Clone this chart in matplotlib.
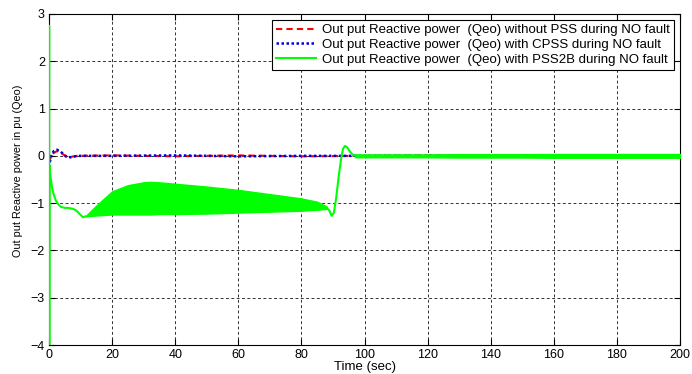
import matplotlib
matplotlib.use("Agg")
import matplotlib.pyplot as plt
import numpy as np

# ---- data ----
# red: without PSS
t_red = [0, 0.3, 0.8, 1.5, 2.5, 3.5, 4.5, 5.5, 7, 9, 20, 40, 60, 80, 100, 120, 140, 160, 180, 200]
q_red = [0, -0.08, 0.0, 0.06, 0.1, 0.08, 0.03, -0.01, -0.02, 0.0, 0.01, -0.01, 0.01, -0.01, 0.0, 0.01, 0.0, 0.0, 0.0, 0.0]
# blue: with CPSS
t_blue = [0, 0.3, 0.8, 1.5, 2.5, 3.5, 4.5, 5.5, 7, 9, 20, 40, 60, 80, 100, 120, 140, 160, 180, 200]
q_blue = [0, -0.12, 0.02, 0.1, 0.13, 0.1, 0.04, -0.02, -0.03, 0.0, 0.0, 0.01, -0.01, 0.0, 0.0, 0.0, 0.0, 0.0, 0.0, 0.0]

# green: with PSS2B, trace before band
t_g1 = [0, 0.05, 0.1, 0.15, 0.3, 0.6, 1.0, 1.5, 2.2, 3.0, 3.8, 5, 6, 7.6, 8.5, 9.3, 10, 10.8, 11.5]
q_g1 = [0, 2.75, -4.5, -0.2, -0.35, -0.5, -0.68, -0.82, -0.95, -1.03, -1.08, -1.1, -1.1, -1.12, -1.15, -1.2, -1.25, -1.3, -1.28]
# green oscillation band envelope
t_band = [11.5, 15, 20, 25, 30, 32, 35, 40, 50, 60, 70, 80, 85, 88]
q_band_hi = [-1.28, -1.05, -0.75, -0.62, -0.56, -0.55, -0.56, -0.59, -0.65, -0.72, -0.81, -0.9, -0.97, -1.07]
q_band_lo = [-1.28, -1.26, -1.24, -1.24, -1.24, -1.24, -1.23, -1.23, -1.22, -1.2, -1.18, -1.16, -1.14, -1.12]
# green trace after band
t_g2 = [88, 88.8, 89.6, 90.3, 91, 91.8, 92.5, 93.2, 93.8, 94.5, 95.5, 96.5, 98]
q_g2 = [-1.1, -1.15, -1.27, -1.2, -0.9, -0.45, -0.1, 0.15, 0.21, 0.18, 0.08, 0.01, 0.0]
# green small band after recovery
t_band2 = [97, 110, 120, 130, 140, 150, 160, 170, 180, 190, 200]
q_band2_hi = [0.03, 0.03, 0.03, 0.035, 0.035, 0.035, 0.04, 0.04, 0.04, 0.04, 0.04]
q_band2_lo = [-0.03, -0.03, -0.03, -0.035, -0.035, -0.035, -0.04, -0.04, -0.04, -0.04, -0.04]

labels = ["Out put Reactive power  (Qeo) without PSS during NO fault",
          "Out put Reactive power  (Qeo) with CPSS during NO fault",
          "Out put Reactive power  (Qeo) with PSS2B during NO fault"]
xticks = list(range(0, 201, 20))
yticks = list(range(-4, 4))

font = ["Liberation Sans", "DejaVu Sans"]

fig = plt.figure(figsize=(6.92, 3.74), dpi=100)
ax = fig.add_axes([49/692, 29/374, 631/692, 331/374])

green = "#00ff00"
ax.plot(t_red, q_red, color="#ff0000", linestyle=(0, (3, 2)), lw=1.5, label=labels[0], zorder=3)
ax.plot(t_blue, q_blue, color="#0000e0", linestyle=(0, (1, 1)), lw=1.8, label=labels[1], zorder=4)
ax.plot(t_g1, q_g1, color=green, lw=1.5, label=labels[2], zorder=5)
ax.fill_between(t_band, q_band_lo, q_band_hi, color=green, lw=1.0, edgecolor=green, zorder=5)
ax.plot(t_g2, q_g2, color=green, lw=1.5, zorder=5)
ax.fill_between(t_band2, q_band2_lo, q_band2_hi, color=green, lw=1.0, edgecolor=green, zorder=5)

ax.set_xlim(0, 200)
ax.set_ylim(-4, 3)
ax.set_xticks(xticks)
ax.set_yticks(yticks)
ax.tick_params(direction="in", top=True, right=True, length=4, labelsize=9, pad=3)
for lab in ax.get_xticklabels() + ax.get_yticklabels():
    lab.set_family(font)
ax.grid(True, color="#333333", linestyle=(0, (3, 2.5)), lw=0.7)
for s in ax.spines.values():
    s.set_linewidth(0.8)
ax.set_xlabel("Time (sec)", fontsize=9.5, family=font, labelpad=0)
ax.set_ylabel("Out put Reactive power in pu (Qeo)", fontsize=7.8, family=font)
ax.yaxis.set_label_coords(-0.041, 0.526)

leg = ax.legend(loc="upper right", prop={"family": font, "size": 9.5}, fancybox=False,
                edgecolor="black", framealpha=1, borderpad=0.3, labelspacing=0.2,
                handlelength=3.0, handletextpad=0.5, borderaxespad=0.45)
leg.get_frame().set_linewidth(0.8)

fig.savefig("out.png", dpi=100)
